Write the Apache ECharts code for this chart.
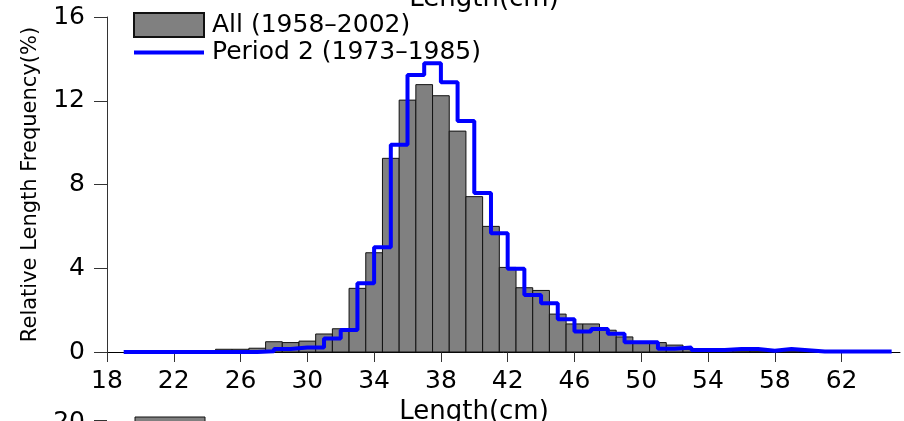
<!DOCTYPE html>
<html>
<head>
<meta charset="utf-8">
<script src="https://cdn.jsdelivr.net/npm/echarts@6/dist/echarts.min.js"></script>
<style>
html,body{margin:0;padding:0;background:#fff;}
#chart{width:904px;height:421px;}
</style>
</head>
<body>
<div id="chart"></div>
<script>
// ---- data ----
const seriesNames = ['All (1958\u20132002)', 'Period 2 (1973\u20131985)'];
const xTickLabels = [18, 22, 26, 30, 34, 38, 42, 46, 50, 54, 58, 62];
const yTickLabels = [0, 4, 8, 12, 16];

// All years: 1-cm length classes (centre of class, cm)
const allLength = [22, 23, 24, 25, 26, 27, 28, 29, 30, 31, 32, 33, 34, 35, 36, 37, 38, 39, 40, 41, 42,
                   43, 44, 45, 46, 47, 48, 49, 50, 51, 52, 53, 54, 55, 56, 57, 58, 59, 60, 61, 62, 63];
const allFreq   = [0.02, 0.02, 0.03, 0.13, 0.13, 0.18, 0.49, 0.45, 0.52, 0.86, 1.11, 3.04, 4.74, 9.25, 12.03, 12.77, 12.24, 10.55, 7.42, 6.0, 4.04,
                   3.07, 2.94, 1.81, 1.34, 1.34, 1.04, 0.72, 0.47, 0.45, 0.33, 0.13, 0.1, 0.06, 0.05, 0.04, 0.06, 0.04, 0.02, 0.02, 0.01, 0.01];

// Period 2: class edges (cm) and the frequency held from each edge to the next
const p2Edges = [19, 20, 21, 22, 23, 24, 25, 26, 27, 28, 29, 30, 31, 32, 33, 34, 35, 36, 37, 38, 39, 40, 41, 42,
                 43, 44, 45, 46, 47, 48, 49, 50, 51, 52, 53, 54, 55, 56, 57, 58, 59, 60, 61, 62, 63, 64, 65];
const p2Freq  = [0, 0, 0, 0, 0, 0, 0, 0, 0.04, 0.14, 0.22, 0.22, 0.65, 1.05, 3.28, 5.0, 9.9, 13.23, 13.79, 12.88, 11.03, 7.6, 5.67,
                 3.98, 2.72, 2.33, 1.56, 0.98, 1.1, 0.87, 0.46, 0.46, 0.15, 0.21, 0.1, 0.1, 0.14, 0.14, 0.06, 0.14, 0.08, 0.02, 0.02, 0.02, 0.02, 0.02];

// ---- build chart ----
const FONT = 'DejaVu Sans';
const barData = allLength.map((x, i) => [x, allFreq[i]]);
const lineData = p2Edges.map((x, i) => [x, p2Freq[Math.min(i, p2Freq.length - 1)]]);

const chart = echarts.init(document.getElementById('chart'), null, {renderer: 'canvas'});
chart.setOption({
  animation: false,
  backgroundColor: '#ffffff',
  textStyle: {fontFamily: FONT},
  grid: {left: 107, right: 4, top: 17, bottom: 69, containLabel: false, outerBoundsMode: 'none'},
  legend: {
    orient: 'vertical',
    left: 133, top: 12, padding: 0,
    itemWidth: 70, itemHeight: 24, itemGap: 2,
    symbolKeepAspect: true,
    textStyle: {fontFamily: FONT, fontSize: 25, color: '#000', padding: [0, 0, 0, 3]},
    data: [
      {name: seriesNames[0], icon: 'rect'},
      {name: seriesNames[1], icon: 'path://M0,0H70V4H0Z', lineStyle: {width: 4, color: '#0000ff'},
       itemStyle: {color: '#0000ff'}}
    ]
  },
  xAxis: {
    type: 'value', min: 18, max: 65.5,
    name: 'Length(cm)', nameLocation: 'middle', nameGap: 40,
    nameTextStyle: {fontFamily: FONT, fontSize: 26, color: '#000', padding: [0, 59, 0, 0]},
    axisLine: {show: true, onZero: false, lineStyle: {color: '#000', width: 1}},
    axisTick: {show: true, inside: false, length: 10, lineStyle: {color: '#333'}, customValues: xTickLabels},
    axisLabel: {fontFamily: FONT, fontSize: 25, color: '#000', margin: 17, customValues: xTickLabels},
    splitLine: {show: false}
  },
  yAxis: {
    type: 'value', min: 0, max: 16, interval: 4,
    name: 'Relative Length Frequency(%)', nameLocation: 'middle', nameGap: 66,
    nameTextStyle: {fontFamily: FONT, fontSize: 21, color: '#000'},
    axisLine: {show: true, lineStyle: {color: '#333', width: 1}},
    axisTick: {show: true, inside: false, length: 13, lineStyle: {color: '#333'}, customValues: yTickLabels},
    axisLabel: {fontFamily: FONT, fontSize: 25, color: '#000', margin: 22, customValues: yTickLabels},
    splitLine: {show: false}
  },
  series: [
    {
      name: seriesNames[0],
      type: 'custom',
      data: barData,
      encode: {x: 0, y: 1},
      itemStyle: {color: '#808080', borderColor: '#111', borderWidth: 1},
      renderItem: function (params, api) {
        const x = api.value(0), y = api.value(1);
        const tl = api.coord([x - 0.5, y]);
        const br = api.coord([x + 0.5, 0]);
        return {
          type: 'rect',
          shape: {x: tl[0], y: tl[1], width: br[0] - tl[0], height: br[1] - tl[1]},
          style: api.style()
        };
      },
      z: 2
    },
    {
      name: seriesNames[1],
      type: 'line',
      step: 'end',
      data: lineData,
      symbol: 'none',
      showSymbol: false,
      lineStyle: {color: '#0000ff', width: 4},
      itemStyle: {color: '#0000ff'},
      z: 3
    }
  ],
  graphic: [
    // fragments of the neighbouring panels cut by the picture frame
    {type: 'text', x: 484, y: -1, silent: true,
     style: {text: 'Length(cm)', fontFamily: FONT, fontSize: 26, fill: '#000', textAlign: 'center', textVerticalAlign: 'middle'}},
    {type: 'text', x: 85, y: 422, silent: true,
     style: {text: '20', fontFamily: FONT, fontSize: 25, fill: '#000', textAlign: 'right', textVerticalAlign: 'middle'}},
    {type: 'line', silent: true, shape: {x1: 94, y1: 420.5, x2: 107, y2: 420.5}, style: {stroke: '#333', lineWidth: 1}},
    {type: 'rect', silent: true, shape: {x: 135, y: 417, width: 70, height: 24}, style: {fill: '#808080', stroke: '#111', lineWidth: 1}}
  ]
});
</script>
</body>
</html>
